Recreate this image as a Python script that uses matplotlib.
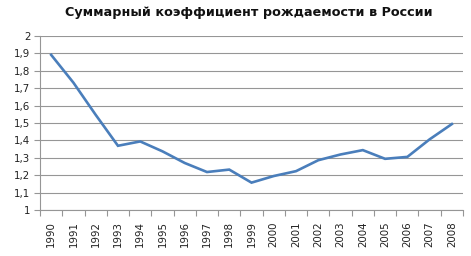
import matplotlib.pyplot as plt
import numpy as np
from matplotlib.ticker import FixedLocator, FixedFormatter

years = [str(y) for y in range(1990, 2009)]
tfr = [1.892, 1.732, 1.547, 1.369, 1.394, 1.337, 1.270, 1.218, 1.232, 1.157,
       1.195, 1.223, 1.286, 1.319, 1.344, 1.294, 1.305, 1.406, 1.494]
yticks = [1.0, 1.1, 1.2, 1.3, 1.4, 1.5, 1.6, 1.7, 1.8, 1.9, 2.0]
ylabels = ["1", "1,1", "1,2", "1,3", "1,4", "1,5", "1,6", "1,7", "1,8", "1,9", "2"]
title = "Суммарный коэффициент рождаемости в России"

grey = "#969696"

fig = plt.figure(figsize=(4.71, 2.56), dpi=100)
ax = fig.add_axes([0.085, 0.180, 0.898, 0.679])

x = np.arange(len(years))
ax.plot(x, tfr, color="#4a7ebb", lw=1.9, solid_joinstyle="miter")

ax.set_xlim(-0.5, len(years) - 0.5)
ax.set_ylim(1.0, 2.0)

ax.yaxis.set_major_locator(FixedLocator(yticks))
ax.yaxis.set_major_formatter(FixedFormatter(ylabels))
ax.grid(axis="y", color=grey, lw=0.8)
ax.set_axisbelow(True)

ax.set_xticks(x)
ax.set_xticklabels(years, rotation=90)
ax.set_xticks(np.arange(-0.5, len(years)), minor=True)
ax.tick_params(axis="x", which="major", length=0, pad=8, labelsize=7.4, colors="#222222")
ax.tick_params(axis="x", which="minor", length=4, width=0.8, color=grey)
ax.tick_params(axis="y", length=4, width=0.8, color=grey, labelsize=7.4, labelcolor="#222222", pad=3)

for s in ("top", "right"):
    ax.spines[s].set_visible(False)
for s in ("left", "bottom"):
    ax.spines[s].set_color(grey)
    ax.spines[s].set_linewidth(0.8)

fig.text(0.529, 0.950, title, ha="center", va="center", fontsize=9.2,
         fontweight="bold", color="#111111")

fig.savefig("out.png", dpi=100)
